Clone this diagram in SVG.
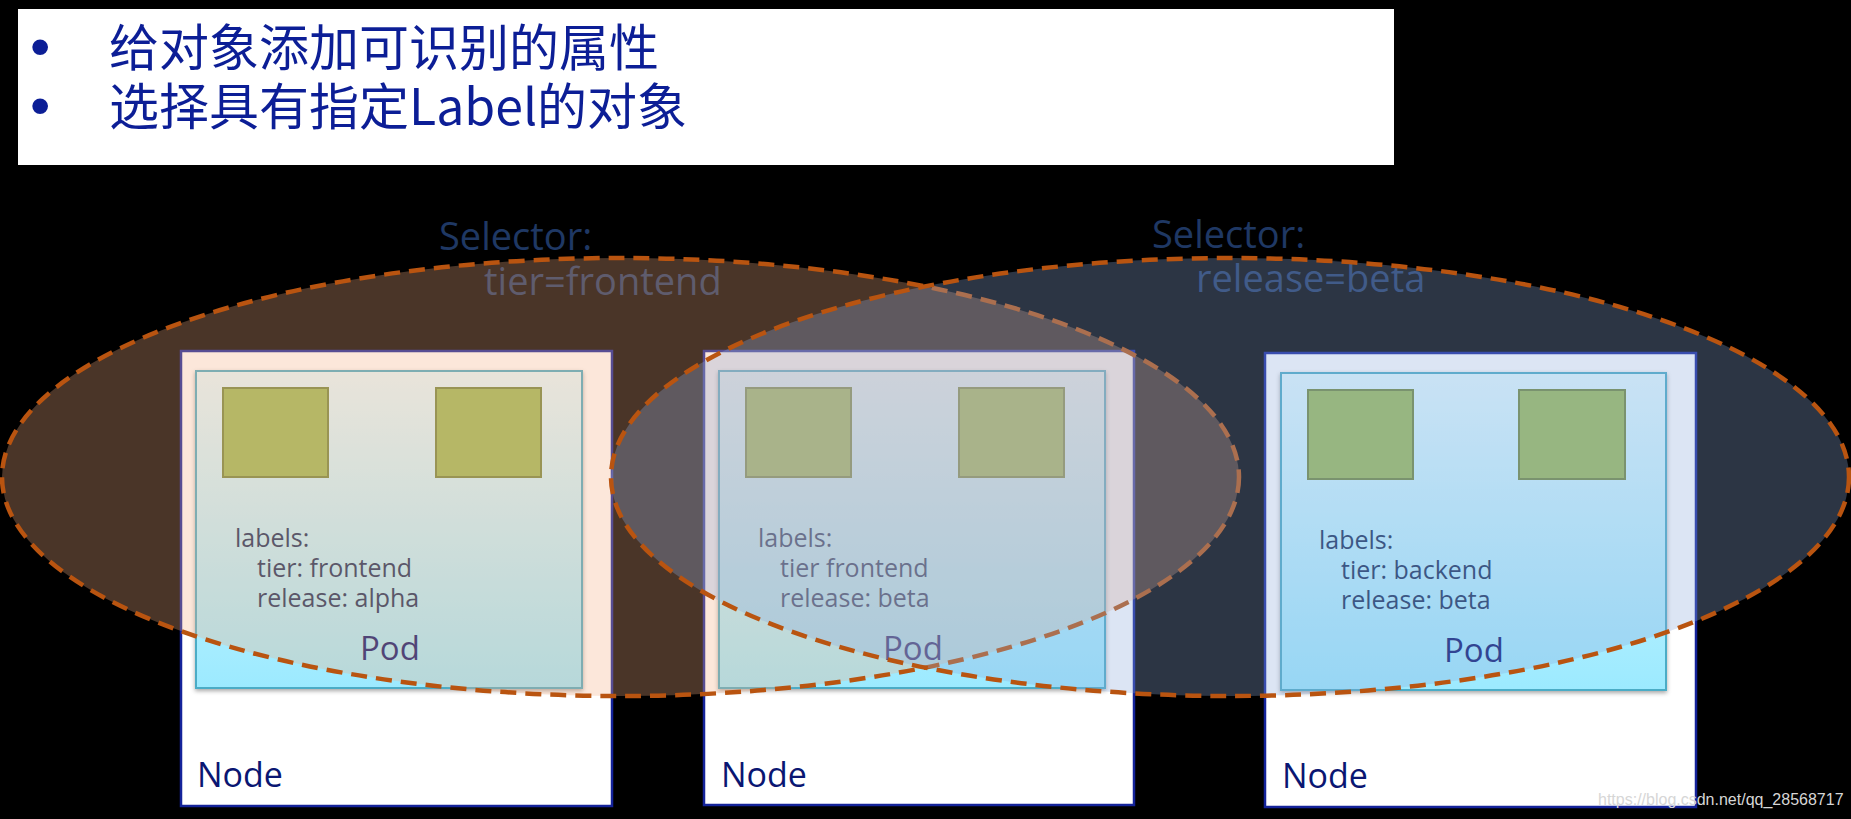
<svg xmlns="http://www.w3.org/2000/svg" width="1851" height="819" viewBox="0 0 1851 819">
<style>
.hdr{font-family:"Noto Sans CJK SC","Noto Sans",sans-serif;font-size:50px;fill:#0C1E96}
.bul{font-family:"Liberation Sans",sans-serif;font-size:58px;fill:#0C1E96}
.node{fill:#FFFFFF;stroke:#14239A;stroke-width:2.5}
.pod{fill:url(#podg);stroke:#4BACC6;stroke-width:2;filter:url(#sh)}
.ctr{fill:#9BBB59;stroke:#71893F;stroke-width:2}
.lbl{font-family:"Open Sans","Noto Sans",sans-serif;font-size:25px;fill:#17325E}
.podt{font-family:"Open Sans","Noto Sans",sans-serif;font-size:33px;fill:#0A1672}
.nodet{font-family:"Open Sans","Noto Sans",sans-serif;font-size:34px;fill:#0A1672}
.selt{font-family:"Open Sans","Noto Sans",sans-serif;font-size:38px;fill:#1F3864}
.sel{stroke:#B95410;stroke-width:4.5;stroke-dasharray:16 9}
.wm{font-family:"Liberation Sans",sans-serif;font-size:16px;fill:#D6D6D6}
</style>
<defs>
<linearGradient id="podg" x1="0" y1="0" x2="0" y2="1">
<stop offset="0" stop-color="#E4FBFF"/>
<stop offset="1" stop-color="#9CEAFF"/>
</linearGradient>
<filter id="sh" x="-5%" y="-5%" width="110%" height="115%">
<feDropShadow dx="0" dy="2" stdDeviation="2" flood-color="#000" flood-opacity="0.35"/>
</filter>
</defs>
<rect x="0" y="0" width="1851" height="819" fill="#000000"/>
<g id="header">
<rect x="18" y="9" width="1376" height="156" fill="#FFFFFF"/>
<text class="bul" x="30" y="66">•</text>
<text class="bul" x="30" y="125">•</text>
<text class="hdr" x="109" y="66">给对象添加可识别的属性</text>
<text class="hdr" x="109" y="125">选择具有指定Label的对象</text>
</g>
<g id="node1">
<rect class="node" x="181" y="351" width="431" height="455"/>
<rect class="pod" x="196" y="371" width="386" height="317"/>
<rect class="ctr" x="223" y="388" width="105" height="89"/>
<rect class="ctr" x="436" y="388" width="105" height="89"/>
<text class="lbl" x="235" y="547">labels:</text>
<text class="lbl" x="257" y="577">tier: frontend</text>
<text class="lbl" x="257" y="607">release: alpha</text>
<text class="podt" x="360" y="660">Pod</text>
<text class="nodet" x="197" y="787">Node</text>
</g>
<g id="node2">
<rect class="node" x="704" y="351" width="430" height="454"/>
<rect class="pod" x="719" y="371" width="386" height="317"/>
<rect class="ctr" x="746" y="388" width="105" height="89"/>
<rect class="ctr" x="959" y="388" width="105" height="89"/>
<text class="lbl" x="758" y="547">labels:</text>
<text class="lbl" x="780" y="577">tier frontend</text>
<text class="lbl" x="780" y="607">release: beta</text>
<text class="podt" x="883" y="660">Pod</text>
<text class="nodet" x="721" y="787">Node</text>
</g>
<g id="node3">
<rect class="node" x="1265" y="353" width="431" height="454"/>
<rect class="pod" x="1281" y="373" width="385" height="317"/>
<rect class="ctr" x="1308" y="390" width="105" height="89"/>
<rect class="ctr" x="1519" y="390" width="106" height="89"/>
<text class="lbl" x="1319" y="549">labels:</text>
<text class="lbl" x="1341" y="579">tier: backend</text>
<text class="lbl" x="1341" y="609">release: beta</text>
<text class="podt" x="1444" y="662">Pod</text>
<text class="nodet" x="1282" y="788">Node</text>
</g>
<g id="selector-labels">
<text class="selt" x="439" y="250">Selector:</text>
<text class="selt" x="484" y="295">tier=frontend</text>
<text class="selt" x="1152" y="248">Selector:</text>
<text class="selt" x="1196" y="292">release=beta</text>
</g>
<g id="selectors">
<ellipse class="sel" cx="620.5" cy="477" rx="618.5" ry="219" fill="#F4B183" fill-opacity="0.3"/>
<ellipse class="sel" cx="1230" cy="477" rx="619" ry="219" fill="#8FAADC" fill-opacity="0.31"/>
</g>
<text class="wm" x="1598" y="805">https://blog.csdn.net/qq_28568717</text>
</svg>
